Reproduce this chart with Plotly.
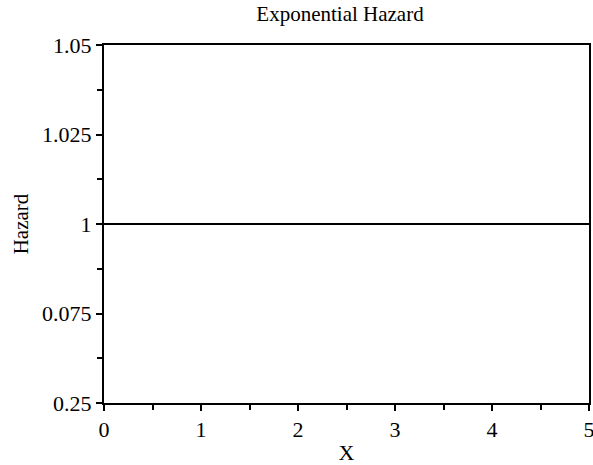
import plotly.graph_objects as go

x_vals = [0, 1, 2, 3, 4, 5]
hazard = [1, 1, 1, 1, 1, 1]
y_tick_vals = [0.95, 0.975, 1.0, 1.025, 1.05]
y_tick_text = ["0.25", "0.075", "1", "1.025", "1.05"]
x_tick_vals = [0, 1, 2, 3, 4, 5]

font_family = "Liberation Serif, Times New Roman, serif"

fig = go.Figure()
fig.add_trace(go.Scatter(x=x_vals, y=hazard, mode="lines",
                         line=dict(color="black", width=2), showlegend=False))

fig.update_layout(
    width=593, height=465,
    margin=dict(l=104, r=4, t=45, b=62),
    paper_bgcolor="white", plot_bgcolor="white",
    font=dict(family=font_family, color="black", size=21),
    title=dict(text="Exponential Hazard", x=340 / 593, xanchor="center", y=1 - 14 / 465, yanchor="middle",
               font=dict(size=21, family=font_family, color="black")),
)
fig.update_xaxes(
    range=[0, 5], tickvals=x_tick_vals, showgrid=False, zeroline=False, automargin=False,
    ticklabeloverflow="allow",
    showline=True, linecolor="black", linewidth=2, mirror=True,
    ticks="outside", ticklen=6, tickwidth=2, tickcolor="black",
    minor=dict(dtick=0.5, ticks="outside", ticklen=5, tickwidth=2, tickcolor="black", showgrid=False),
    tickfont=dict(size=22), title=dict(text="X", font=dict(size=22), standoff=4),
)
fig.update_yaxes(
    range=[0.95, 1.05], tickvals=y_tick_vals, ticktext=y_tick_text, showgrid=False, zeroline=False,
    automargin=False, ticklabeloverflow="allow",
    showline=True, linecolor="black", linewidth=2, mirror=True,
    ticks="outside", ticklen=6, tickwidth=2, tickcolor="black",
    minor=dict(tickvals=[0.9625, 0.9875, 1.0125, 1.0375], ticks="outside", ticklen=5, tickwidth=2,
               tickcolor="black", showgrid=False),
    tickfont=dict(size=22), title=dict(text="Hazard", font=dict(size=21), standoff=8),
)

fig.write_html("out.html")
